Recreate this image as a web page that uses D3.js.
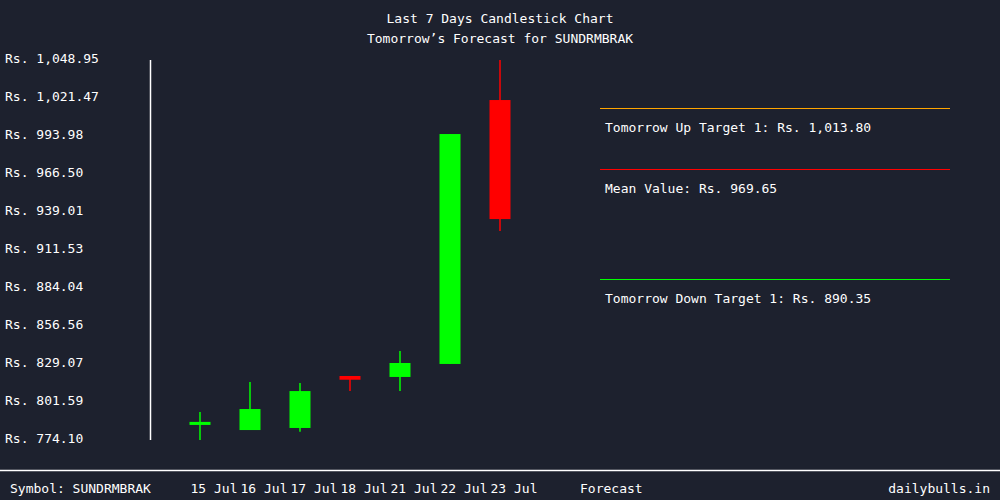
<!DOCTYPE html>
<html>
<head>
<meta charset="utf-8">
<script src="https://cdn.jsdelivr.net/npm/d3@7"></script>
<style>
html,body{margin:0;padding:0;background:#1d212e;}
svg{display:block;}
text{font-family:"DejaVu Sans Mono",monospace;font-size:13px;fill:#ffffff;}
</style>
</head>
<body>
<svg id="chart" width="1000" height="500"></svg>
<script>
const dates = ["15 Jul","16 Jul","17 Jul","18 Jul","21 Jul","22 Jul","23 Jul"];
const opens = [785.0, 781.3, 782.8, 820.4, 819.7, 829.1, 1020.0];
const highs = [794.4, 816.0, 815.3, 820.4, 838.5, 995.4, 1048.95];
const lows  = [774.1, 781.3, 780.1, 809.5, 809.5, 829.1, 925.3];
const closes= [787.2, 796.5, 809.5, 817.7, 829.8, 995.4, 933.9];
const yTicks = [774.10, 801.59, 829.07, 856.56, 884.04, 911.53, 939.01, 966.50, 993.98, 1021.47, 1048.95];
const forecastLabels = ["Tomorrow Up Target 1", "Mean Value", "Tomorrow Down Target 1"];
const forecastValues = [1013.80, 969.65, 890.35];
const forecastColors = ["#ffa500", "#ff0000", "#00ff00"];
const symbol = "SUNDRMBRAK";

const svg = d3.select("#chart");
svg.append("rect").attr("width",1000).attr("height",500).attr("fill","#1d212e");

const y = d3.scaleLinear().domain([774.10, 1048.95]).range([440, 60]);
const x = d3.scaleBand().domain(dates).range([175, 525]).paddingInner(0.58).paddingOuter(0.29);
const fmt = d3.format(",.2f");

// titles
svg.append("text").attr("x",500).attr("y",23).attr("text-anchor","middle").text("Last 7 Days Candlestick Chart");
svg.append("text").attr("x",500).attr("y",43).attr("text-anchor","middle").text("Tomorrow\u2019s Forecast for " + symbol);

// y axis line
svg.append("line").attr("x1",150.5).attr("x2",150.5).attr("y1",y.range()[1]).attr("y2",y.range()[0])
  .attr("stroke","#fff").attr("stroke-width",1.5);

// y tick labels
svg.selectAll("text.ytick").data(yTicks).enter().append("text")
  .attr("class","ytick").attr("x",5).attr("y",d=>y(d)+3).text(d=>"Rs. "+fmt(d));

// candles
const data = dates.map((d,i)=>({d, o:opens[i], h:highs[i], l:lows[i], c:closes[i]}));
const g = svg.append("g");
data.forEach(k=>{
  const col = k.c >= k.o ? "#00ff00" : "#ff0000";
  const cx = x(k.d) + x.bandwidth()/2;
  g.append("line").attr("x1",cx).attr("x2",cx).attr("y1",y(k.h)).attr("y2",y(k.l))
    .attr("stroke",col).attr("stroke-width",1.5);
  const top = y(Math.max(k.o,k.c)), bot = y(Math.min(k.o,k.c));
  g.append("rect").attr("x",x(k.d)).attr("width",x.bandwidth())
    .attr("y",top).attr("height",Math.max(bot-top,3)).attr("fill",col);
});

// forecast lines
forecastValues.forEach((v,i)=>{
  const ly = Math.floor(y(v)) + 0.5;
  svg.append("line").attr("x1",600).attr("x2",950).attr("y1",ly).attr("y2",ly)
    .attr("stroke",forecastColors[i]).attr("stroke-width",1);
  svg.append("text").attr("x",605).attr("y",ly+23).text(forecastLabels[i]+": Rs. "+fmt(v));
});

// bottom line
svg.append("line").attr("x1",0).attr("x2",1000).attr("y1",470.5).attr("y2",470.5).attr("stroke","#fff").attr("stroke-width",1.5);

// bottom labels
svg.append("text").attr("x",10).attr("y",493).text("Symbol: " + symbol);
svg.selectAll("text.xlab").data(dates).enter().append("text")
  .attr("class","xlab").attr("x",d=>x(d)+1).attr("y",493).text(d=>d);
svg.append("text").attr("x",580).attr("y",493).text("Forecast");
svg.append("text").attr("x",990).attr("y",493).attr("text-anchor","end").text("dailybulls.in");
</script>
</body>
</html>
